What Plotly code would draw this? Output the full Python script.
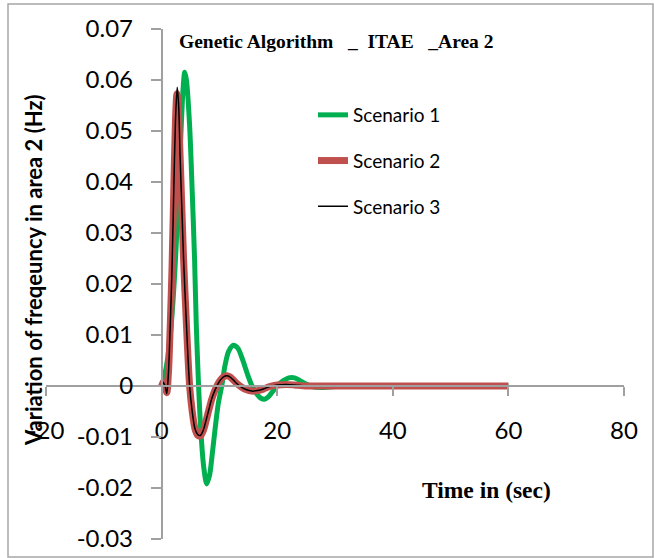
import plotly.graph_objects as go

# ---------------- data ----------------
t_s1 = [0, 0.5, 1, 1.5, 2, 2.5, 2.9, 3.4, 3.7, 4.0, 4.3, 4.85, 5.3, 5.7, 6.0, 6.4, 6.8, 7.3, 7.8,
        8.3, 8.8, 9.3, 9.8, 10.4, 11, 11.6, 12.4, 13.2, 14, 14.8, 15.5, 16.1, 16.5, 17.2, 17.8,
        18.5, 19.2, 20, 21, 22, 23, 24, 25, 26, 27.5, 30, 33, 40, 50, 60]
v_s1 = [0, 0.002, 0.005, 0.010, 0.017, 0.027, 0.038, 0.051, 0.058, 0.0615, 0.060, 0.051, 0.038,
        0.025, 0.012, 0.0, -0.009, -0.016, -0.0192, -0.0175, -0.013, -0.008, -0.0035, 0.0,
        0.0042, 0.0068, 0.0080, 0.0074, 0.0052, 0.0025, 0.0004, -0.0008, -0.0016, -0.0024,
        -0.0026, -0.0021, -0.0011, 0.0, 0.0010, 0.0016, 0.0016, 0.0010, 0.0004, -0.0001,
        -0.0003, -0.0001, 0.0, 0.0, 0.0, 0.0]

t_s2 = [0, 0.3, 0.6, 0.9, 1.2, 1.5, 1.8, 2.1, 2.4, 2.65, 2.9, 3.2, 3.5, 3.8, 4.3, 4.85, 5.3, 5.8,
        6.3, 6.7, 7.2, 7.7, 8.2, 8.7, 9.2, 9.7, 10.2, 10.7, 11.3, 11.8, 12.4, 13, 13.8, 14.6,
        15.6, 16.6, 17.6, 18.7, 20, 21.5, 23, 25, 30, 40, 50, 60]
v_s2 = [0, 0.0008, 0.0002, -0.0013, 0.003, 0.012, 0.023, 0.038, 0.052, 0.0573, 0.054, 0.045,
        0.035, 0.025, 0.012, 0.0, -0.005, -0.0085, -0.0097, -0.0098, -0.0088, -0.0068, -0.0046,
        -0.0025, -0.0009, 0.0003, 0.0012, 0.0018, 0.0020, 0.0018, 0.0012, 0.0005, -0.0002,
        -0.0007, -0.0010, -0.0009, -0.0006, -0.0001, 0.0002, 0.0003, 0.0002, 0.0, 0.0, 0.0,
        0.0, 0.0]

t_s3 = [0, 0.3, 0.6, 0.9, 1.2, 1.5, 1.8, 2.1, 2.4, 2.7, 2.95, 3.2, 3.5, 3.8, 4.3, 4.85, 5.3, 5.8,
        6.3, 6.7, 7.2, 7.7, 8.2, 8.7, 9.2, 9.7, 10.2, 10.7, 11.3, 11.8, 12.4, 13, 13.8, 14.6,
        15.6, 16.6, 17.6, 18.7, 20, 21.5, 23, 25, 30, 40, 50, 60]
v_s3 = [0, 0.0007, 0.0, -0.0015, 0.003, 0.012, 0.023, 0.038, 0.052, 0.0586, 0.055, 0.045,
        0.035, 0.025, 0.012, 0.0, -0.005, -0.0085, -0.0096, -0.0097, -0.0087, -0.0067, -0.0045,
        -0.0024, -0.0009, 0.0003, 0.0012, 0.0018, 0.0020, 0.0018, 0.0012, 0.0005, -0.0002,
        -0.0007, -0.0010, -0.0009, -0.0006, -0.0001, 0.0002, 0.0003, 0.0002, 0.0, 0.0, 0.0,
        0.0, 0.0]

series_names = ["Scenario 1", "Scenario 2", "Scenario 3"]
x_ticks = [-20, 0, 20, 40, 60, 80]
x_tick_text = ["-20", "0", "20", "40", "60", "80"]
y_ticks = [-0.03, -0.02, -0.01, 0, 0.01, 0.02, 0.03, 0.04, 0.05, 0.06, 0.07]
y_tick_text = ["-0.03", "-0.02", "-0.01", "0", "0.01", "0.02", "0.03", "0.04", "0.05", "0.06", "0.07"]

# ---------------- layout geometry ----------------
W, H = 654, 558
L, R, T, B = 46, 30, 29, 19
PW, PH = W - L - R, H - T - B


def fx(px):
    return (px - L) / PW


def fy(py):
    return (H - B - py) / PH


AXIS_GRAY = "#A0A0A0"
SANS = "Lato"
SERIF = "Liberation Serif"
NB = "\u00a0"

fig = go.Figure()
styles = [("#00B050", 5), ("#C0504D", 7), ("#000000", 1.5)]
for name, (tx, vy), (col, wd) in zip(series_names,
                                     [(t_s1, v_s1), (t_s2, v_s2), (t_s3, v_s3)], styles):
    fig.add_trace(go.Scatter(x=tx, y=vy, mode="lines", name=name, legendgroup=name,
                             line=dict(color=col, width=wd, shape="spline", smoothing=0.8)))

fig.update_layout(
    width=W, height=H, autosize=False,
    margin=dict(l=L, r=R, t=T, b=B, pad=0, autoexpand=False),
    paper_bgcolor="white", plot_bgcolor="white",
    font=dict(family=SANS, color="black"),
    xaxis=dict(range=[-20, 80], anchor="free", position=0.3, showgrid=False, zeroline=False,
               automargin=False,
               showline=True, linecolor=AXIS_GRAY, linewidth=1.5,
               ticks="outside", ticklen=9, tickcolor=AXIS_GRAY, tickwidth=1.5,
               tickvals=x_ticks, ticktext=x_tick_text, ticklabelstandoff=14,
               tickfont=dict(family=SANS, size=24, color="black")),
    yaxis=dict(range=[-0.03, 0.07], anchor="free", position=0.2, showgrid=False, zeroline=False,
               automargin=False,
               showline=True, linecolor=AXIS_GRAY, linewidth=1.5,
               ticks="outside", ticklen=10, tickcolor=AXIS_GRAY, tickwidth=1.5,
               tickvals=y_ticks, ticktext=y_tick_text, ticklabelstandoff=13,
               tickfont=dict(family=SANS, size=24, color="black")),
    legend=dict(x=fx(313), y=fy(96), xanchor="left", yanchor="top",
                bgcolor="rgba(0,0,0,0)", font=dict(family=SANS, size=19, color="black"),
                tracegroupgap=18),
    showlegend=True,
)

fig.add_annotation(x=fx(177), y=fy(41), xref="paper", yref="paper", xanchor="left",
                   yanchor="middle", showarrow=False,
                   text="<b>Genetic Algorithm" + NB * 3 + "_" + NB * 2 + "ITAE" + NB * 3 + "_Area 2</b>",
                   font=dict(family=SERIF, size=19.5, color="black"))
fig.add_annotation(x=fx(486), y=fy(490), xref="paper", yref="paper", xanchor="center",
                   yanchor="middle", showarrow=False, text="<b>Time in (sec)</b>",
                   font=dict(family=SERIF, size=23.5, color="black"))
fig.add_annotation(x=fx(33), y=fy(270), xref="paper", yref="paper", xanchor="center",
                   yanchor="middle", showarrow=False, textangle=-90,
                   text="<b>Variation of freqeuncy in area 2 (Hz)</b>",
                   font=dict(family=SANS, size=22, color="black"))

# chart frame
fig.add_shape(type="rect", xref="paper", yref="paper", x0=fx(8), x1=fx(653), y0=fy(557), y1=fy(4),
              line=dict(color="#A6A6A6", width=1.5), fillcolor="rgba(0,0,0,0)", layer="below")

fig.write_html("out.html", config={"displayModeBar": False},
               post_script="document.body.style.margin='0';document.body.style.overflow='hidden';")
